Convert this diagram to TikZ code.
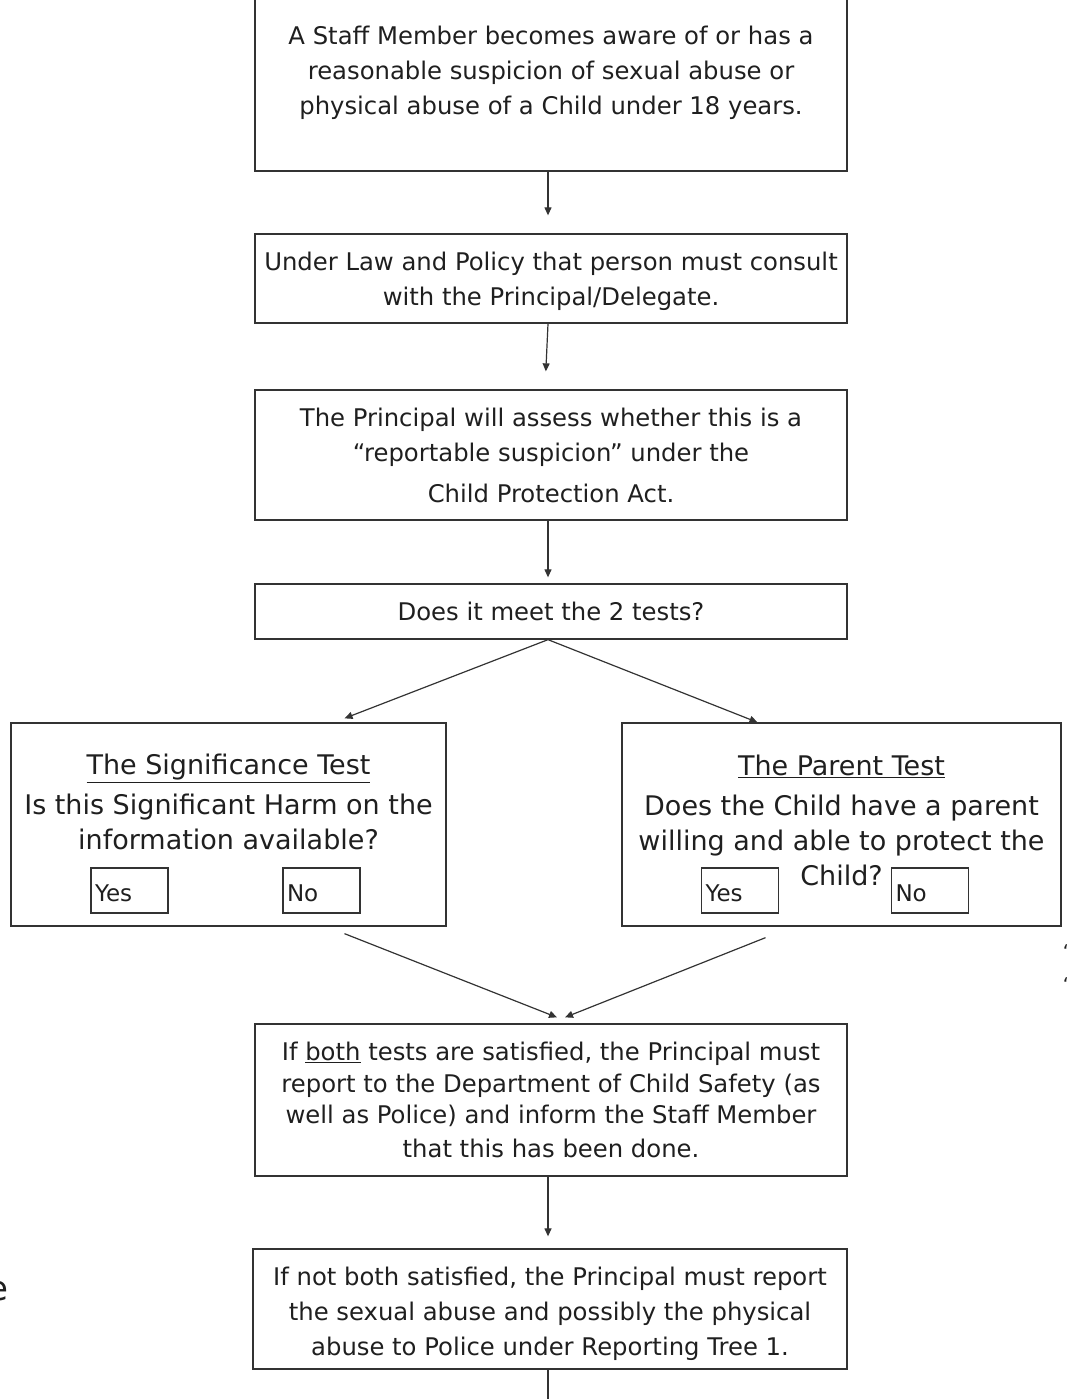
\documentclass[tikz,border=0pt]{standalone}
\usepackage{fontspec}
\setmainfont{DejaVu Sans}
\usetikzlibrary{arrows.meta}

\begin{document}
\begin{tikzpicture}[x=1pt,y=-1pt,
    every node/.style={inner sep=0pt, text=black!88},
    stepbox/.style={draw=black!80, line width=1.3pt, align=center, minimum width=592pt,
      font=\fontsize{24.3}{35}\selectfont},
    testbox/.style={stepbox, minimum height=203pt, font=\fontsize{27}{35}\selectfont},
    answer/.style={draw=black!80, line width=1.3pt, minimum width=77pt, minimum height=45pt,
      text width=69pt, text height=22.8pt, align=left, font=\fontsize{23}{24}\selectfont},
    flow/.style={draw=black!80, line width=1.2pt, -{Triangle[length=8pt,width=7pt]}},
    link/.style={draw=black!80, line width=1.2pt}]
  \useasboundingbox (0,0) rectangle (1066,1399);
  \clip (0,0) rectangle (1066,1399);

  % main column
  \node[stepbox, minimum height=196pt] (aware) at (551,73)
    {A Staff Member becomes aware of or has a\\reasonable suspicion of sexual abuse or\\physical abuse of a Child under 18 years.};
  \node[stepbox, minimum height=89pt] (consult) at (551,278.5)
    {\mbox{}\\[-10pt]Under Law and Policy that person must consult\\with the Principal/Delegate.};
  \node[stepbox, minimum height=130pt] (assess) at (551,455)
    {The Principal will assess whether this is a\\``reportable suspicion'' under the\\[6pt]Child Protection Act.};
  \node[stepbox, minimum height=55pt] (tests) at (551,611.5) {Does it meet the 2 tests?};

  % the two tests
  \node[testbox, minimum width=435pt] (signif) at (228.5,824.5)
    {\underline{The Significance Test}\\[5pt]Is this Significant Harm on the\\information available?\\\mbox{}\\[-25pt]\mbox{}};
  \node[testbox, minimum width=439pt] (parent) at (841.5,824.5)
    {\underline{The Parent Test}\\[5pt]Does the Child have a parent\\willing and able to protect the\\Child?\\[-26pt]\mbox{}};
  \node[answer] (sigyes) at (129.5,890.5) {Yes};
  \node[answer] (signo) at (321.5,890.5) {No};
  \node[answer] (paryes) at (740,890.5) {Yes};
  \node[answer] (parno) at (930,890.5) {No};

  % outcomes
  \node[stepbox, minimum height=152pt, font=\fontsize{24.3}{31.5}\selectfont] (both) at (551,1100)
    {If \underline{both} tests are satisfied, the Principal must\\report to the Department of Child Safety (as\\well as Police) and inform the Staff Member\\[2pt]that this has been done.};
  \node[stepbox, minimum width=594pt, minimum height=120pt] (notboth) at (550,1309)
    {\mbox{}\\[-7pt]If not both satisfied, the Principal must report\\the sexual abuse and possibly the physical\\abuse to Police under Reporting Tree 1.};
  \coordinate (tail) at (548,1410);

  % stray marks cut at the page edges
  \node[font=\fontsize{19}{20}\selectfont] (markA) at (1066,952) {‘};
  \node[font=\fontsize{19}{20}\selectfont] (markB) at (1066,985) {‘};
  \node[font=\fontsize{34}{36}\selectfont, anchor=base] (cute) at (-2,1300) {e};

  % connectors
  \draw[flow, shorten >=18pt] ([xshift=-3pt]aware.south) -- ([xshift=-3pt]consult.north);
  \draw[flow, shorten >=18pt] ([xshift=-3pt]consult.south) -- ([xshift=-6pt]assess.north);
  \draw[flow, shorten >=6pt] ([xshift=-3pt]assess.south) -- ([xshift=-3pt]tests.north);
  \draw[flow] ([xshift=-3pt]tests.south) -- ([xshift=116pt,yshift=4pt]signif.north);
  \draw[flow] ([xshift=-3pt]tests.south) -- ([xshift=-84pt]parent.north);
  \draw[flow] ([xshift=116pt,yshift=-7pt]signif.south) -- ([xshift=6pt,yshift=6pt]both.north);
  \draw[flow] ([xshift=-76pt,yshift=-11pt]parent.south) -- ([xshift=14pt,yshift=6pt]both.north);
  \draw[flow, shorten >=12pt] ([xshift=-3pt]both.south) -- ([xshift=-2pt]notboth.north);
  \draw[link] ([xshift=-2pt]notboth.south) -- (tail);
\end{tikzpicture}
\end{document}
